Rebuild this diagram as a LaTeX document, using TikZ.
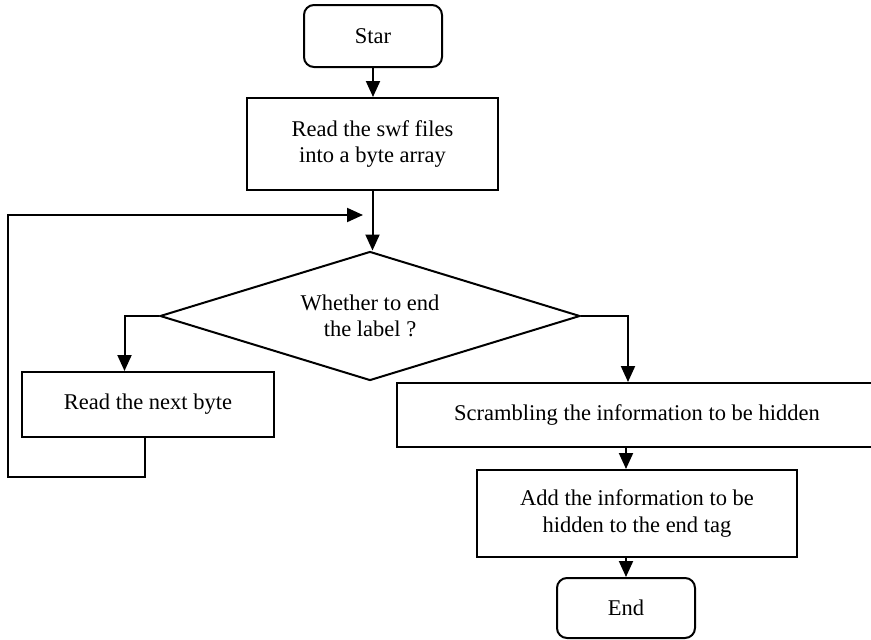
\documentclass[tikz,border=0pt]{standalone}
\usepackage{fontspec}
\setmainfont{Liberation Serif}
\usetikzlibrary{positioning,arrows.meta,shapes.geometric}

\begin{document}
\begin{tikzpicture}[x=1pt, y=-1pt, font=\fontsize{22.5}{26.5}\selectfont, line width=2pt,
  box/.style={draw, rectangle, align=center, inner sep=0pt},
  term/.style={box, rounded corners=10pt},
  arr/.style={-{Triangle[length=16pt, width=14pt]}}]
\useasboundingbox (0,0) rectangle (871,640);

% Start and end terminals
\node[term, minimum width=138pt, minimum height=62pt] (star) at (373,36) {Star};
\node[term, minimum width=138pt, minimum height=60pt] (end) at (626,608) {End};

% Process boxes
\node[box, minimum width=251pt, minimum height=92pt] (read) at (372.5,144) {Read the swf files\\into a byte array};
\node[box, minimum width=252pt, minimum height=65pt] (next) at (148,404.5) {Read the next byte};
\node[box, minimum width=480pt, minimum height=64pt] (scram) at (637,415) {Scrambling the information to be hidden};
\node[box, minimum width=320pt, minimum height=87pt] (add) at (637,513.5) {Add the information to be\\hidden to the end tag};

% Decision
\node[draw, diamond, aspect=3.26, inner sep=0pt, minimum width=420pt, minimum height=129pt, align=center] (cond) at (370,316) {Whether to end\\the label ?};

% Loop comes back in here
\coordinate (back) at (363,215);

% Straight edges
\foreach \a/\b in {star/read, read/cond} {
  \draw[arr] (\a.south) -- (\a.south |- \b.north);
}
\foreach \a/\b in {scram/add, add/end} {
  \draw[arr] (\a.south -| end) -- (\b.north -| end);
}

% Branches of the decision
\draw[arr] (cond.west) -| ([xshift=-23.5pt]next.north);
\draw[arr] (cond.east) -| ([xshift=-9pt]scram.north);

% Loop back
\draw[arr] ([xshift=-3pt]next.south) -- ++(0,39) -| (8,215) -- (back);
\end{tikzpicture}
\end{document}
